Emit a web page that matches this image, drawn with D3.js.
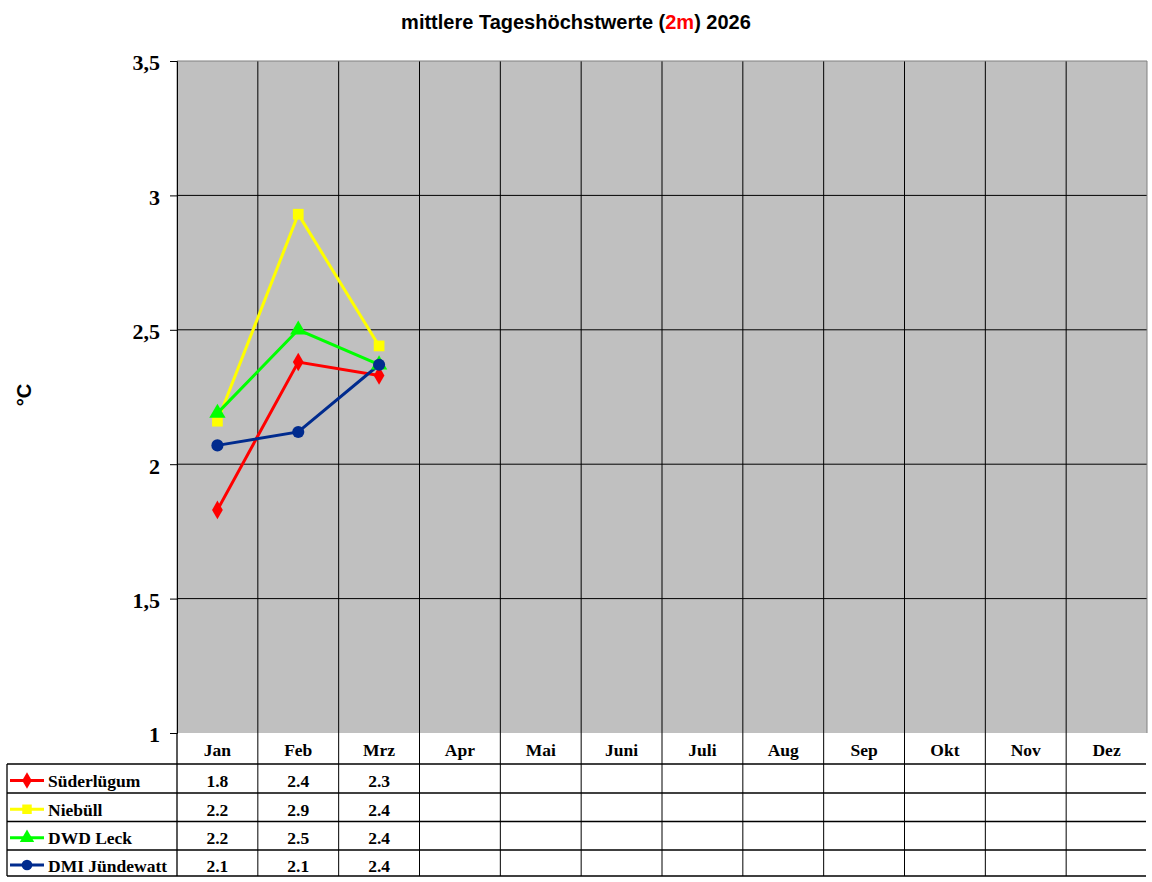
<!DOCTYPE html>
<html lang="de">
<head>
<meta charset="UTF-8">
<title>mittlere Tageshöchstwerte (2m) 2026</title>
<style>
    body { margin: 0; background: #fff; }
    svg { display: block; }
    .title { font: bold 20px "Liberation Sans", Arial, sans-serif; }
    .ytick { font: bold 22px "Liberation Serif", "Times New Roman", serif; }
    .cell { font: bold 17.5px "Liberation Serif", "Times New Roman", serif; }
</style>
</head>
<body>
<svg id="chart" width="1152" height="882"></svg>
<script src="https://cdn.jsdelivr.net/npm/d3@7/dist/d3.min.js"></script>
<script>
// Monate und Messreihen
const months = ["Jan", "Feb", "Mrz", "Apr", "Mai", "Juni", "Juli", "Aug", "Sep", "Okt", "Nov", "Dez"];
const yTicks = [1, 1.5, 2, 2.5, 3, 3.5];

const suederluegum = [1.83, 2.38, 2.33];
const niebuell = [2.16, 2.93, 2.44];
const dwdLeck = [2.19, 2.50, 2.37];
const dmiJuendewatt = [2.07, 2.12, 2.37];

const series = [
    { name: "Süderlügum", values: suederluegum, color: "#ff0000", symbol: d3.symbolDiamond },
    { name: "Niebüll", values: niebuell, color: "#ffff00", symbol: d3.symbolSquare },
    { name: "DWD Leck", values: dwdLeck, color: "#00ff00", symbol: d3.symbolTriangle },
    { name: "DMI Jündewatt", values: dmiJuendewatt, color: "#002b8e", symbol: d3.symbolCircle }
];

const plot = { left: 177, right: 1147, top: 61, bottom: 733 };
const rowY = [733, 764, 793, 821.5, 850, 876];
const tableLeft = 7;

const svg = d3.select("#chart");

const x = d3.scaleBand().domain(months).range([plot.left, plot.right]);
const y = d3.scaleLinear().domain([1, 3.5]).range([plot.bottom, plot.top]);
const fmt = v => String(v).replace(".", ",");

// Titel
const title = svg.append("text")
    .attr("class", "title")
    .attr("x", 576).attr("y", 29)
    .attr("text-anchor", "middle");
title.append("tspan").text("mittlere Tageshöchstwerte (");
title.append("tspan").attr("fill", "#ff0000").text("2m");
title.append("tspan").text(") 2026");

// Zeichenfläche
svg.append("rect")
    .attr("x", plot.left).attr("y", plot.top)
    .attr("width", plot.right - plot.left).attr("height", plot.bottom - plot.top)
    .attr("fill", "#c0c0c0");

// horizontale Gitterlinien
svg.append("g").selectAll("line")
    .data(yTicks.slice(1, -1))
    .join("line")
    .attr("x1", plot.left).attr("x2", plot.right)
    .attr("y1", d => y(d)).attr("y2", d => y(d))
    .attr("stroke", "#000").attr("stroke-width", 1);

// vertikale Gitterlinien (durch Diagramm und Tabelle)
svg.append("g").selectAll("line")
    .data(months.slice(1))
    .join("line")
    .attr("x1", d => x(d)).attr("x2", d => x(d))
    .attr("y1", plot.top).attr("y2", rowY[rowY.length - 1])
    .attr("stroke", "#000").attr("stroke-width", 1);

// Rahmen der Zeichenfläche
svg.append("path")
    .attr("d", `M${plot.left},${plot.bottom}V${plot.top}H${plot.right}V${plot.bottom}`)
    .attr("fill", "none").attr("stroke", "#808080").attr("stroke-width", 1);

// Y-Achse
const yAxis = svg.append("g")
    .attr("transform", `translate(${plot.left},0)`)
    .call(d3.axisLeft(y).tickValues(yTicks).tickFormat(fmt).tickSize(7).tickPadding(10));
yAxis.select(".domain").attr("stroke", "#000");
yAxis.selectAll(".tick line").attr("stroke", "#000");
yAxis.selectAll(".tick text")
    .attr("class", "ytick")
    .attr("fill", "#000")
    .attr("dy", "0.4em");
yAxis.attr("font-family", null).attr("font-size", null);

svg.append("text")
    .attr("class", "title")
    .attr("font-size", "22px")
    .attr("transform", "translate(31,395) rotate(-90)")
    .attr("text-anchor", "middle")
    .text("°C");

// Datentabelle
const tableLines = svg.append("g").attr("stroke", "#000").attr("stroke-width", 1.3);
tableLines.selectAll("line.h")
    .data(rowY.slice(1))
    .join("line")
    .attr("x1", tableLeft).attr("x2", plot.right - 1)
    .attr("y1", d => d).attr("y2", d => d);
tableLines.append("line")
    .attr("x1", plot.left).attr("x2", plot.left)
    .attr("y1", plot.bottom).attr("y2", rowY[rowY.length - 1]);
tableLines.append("line")
    .attr("x1", tableLeft).attr("x2", tableLeft)
    .attr("y1", rowY[1]).attr("y2", rowY[rowY.length - 1]);

// Monatskopf
svg.append("g").selectAll("text")
    .data(months)
    .join("text")
    .attr("class", "cell")
    .attr("x", d => x(d) + x.bandwidth() / 2)
    .attr("y", (rowY[0] + rowY[1]) / 2 + 7)
    .attr("text-anchor", "middle")
    .text(d => d);

// Zeilen je Station
series.forEach((s, i) => {
    const yc = (rowY[i + 1] + rowY[i + 2]) / 2;
    const row = svg.append("g");
    row.append("line")
        .attr("x1", 10).attr("x2", 44)
        .attr("y1", yc + 2).attr("y2", yc + 2)
        .attr("stroke", s.color).attr("stroke-width", 3);
    row.append("path")
        .attr("d", d3.symbol().type(s.symbol).size(s.symbol === d3.symbolDiamond ? 80 : 90)())
        .attr("transform", `translate(27,${yc + 2})`)
        .attr("fill", s.color);
    row.append("text")
        .attr("class", "cell")
        .attr("x", 48).attr("y", yc + 8.5)
        .text(s.name);
    row.selectAll("text.v")
        .data(s.values)
        .join("text")
        .attr("class", "cell")
        .attr("x", (d, j) => x(months[j]) + x.bandwidth() / 2)
        .attr("y", yc + 8.5)
        .attr("text-anchor", "middle")
        .text(d => d.toFixed(1));
});

// Linien und Marker
const line = d3.line()
    .x((d, j) => x(months[j]) + x.bandwidth() / 2)
    .y(d => y(d));

series.forEach(s => {
    svg.append("path")
        .datum(s.values)
        .attr("d", line)
        .attr("fill", "none")
        .attr("stroke", s.color)
        .attr("stroke-width", 3);
});

series.forEach(s => {
    svg.append("g").selectAll("path")
        .data(s.values)
        .join("path")
        .attr("d", d3.symbol().type(s.symbol).size(s.symbol === d3.symbolDiamond ? 100 : 115)())
        .attr("transform", (d, j) => `translate(${x(months[j]) + x.bandwidth() / 2},${y(d)})`)
        .attr("fill", s.color);
});
</script>
</body>
</html>
